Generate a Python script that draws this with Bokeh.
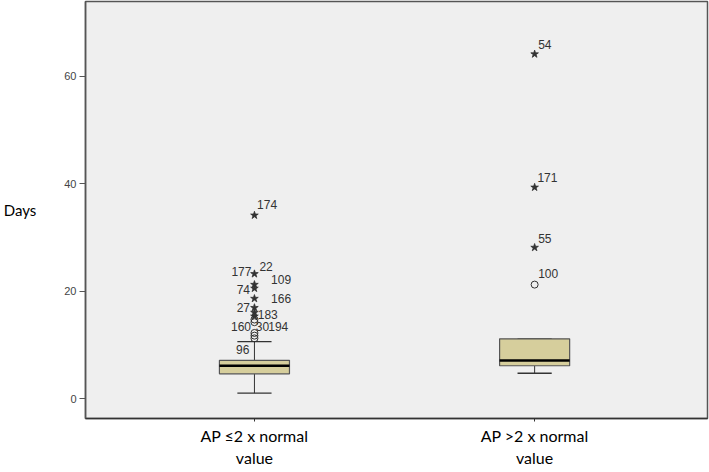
from bokeh.plotting import figure
from bokeh.models import ColumnDataSource, Range1d, FixedTicker
from bokeh.core.properties import value
from bokeh.embed import file_html
from bokeh.resources import INLINE

# ---- data ----
groups = ["AP ≤2 x normal\nvalue", "AP >2 x normal\nvalue"]
q1 = [4.6, 6.1]
median = [6.1, 7.07]
q3 = [7.1, 11.1]
lower = [1.0, 4.7]
upper = [10.6, 11.1]

circle_group = [0, 0, 0, 0, 0, 1]
circle_vals = [14.7, 14.2, 12.2, 11.7, 11.2, 21.2]

star_group = [0, 0, 0, 0, 0, 0, 0, 0, 1, 1, 1]
star_vals = [34.1, 23.2, 21.2, 20.5, 18.6, 16.9, 16.0, 15.3, 64.1, 39.3, 28.1]

label_text = ["174", "22", "177", "109", "74", "166", "27", "183",
              "160", "30", "194", "96", "54", "171", "55", "100"]
label_group = [0, 0, 0, 0, 0, 0, 0, 0, 0, 0, 0, 0, 1, 1, 1, 1]
label_y = [36.2, 24.6, 23.6, 22.1, 20.2, 18.6, 16.9, 15.7,
           13.4, 13.4, 13.4, 9.2, 65.9, 41.1, 29.8, 23.3]

y_ticks = [0, 20, 40, 60]

# ---- label layout (screen px offsets, alignment) ----
label_dx = [2.6, 5, -3, 16.6, -4.4, 16.6, -4.4, 3.3,
            -3.4, 1.3, 13.8, -5, 3.5, 2.8, 3.5, 3.5]
label_align = ["left", "left", "right", "left", "right", "left", "right", "left",
               "right", "left", "left", "right", "left", "left", "left", "left"]

xs = list(range(len(groups)))
box_w = 0.25
cap_w = 0.122

p = figure(width=709, height=472, output_backend="svg", toolbar_location=None,
           x_range=Range1d(-0.603, 1.617), y_range=Range1d(-3.72, 73.89),
           min_border_left=79, min_border_right=2, min_border_top=1,
           min_border_bottom=54)

p.background_fill_color = "#efefef"
p.border_fill_color = "white"
p.outline_line_color = "#555555"
p.outline_line_width = 1.5
p.xgrid.visible = False
p.ygrid.visible = False

# whiskers
p.segment(x0=xs, x1=xs, y0=lower, y1=q1, line_color="#333333", line_width=1)
p.segment(x0=xs, x1=xs, y0=q3, y1=upper, line_color="#333333", line_width=1)
p.segment(x0=[x - cap_w / 2 for x in xs], x1=[x + cap_w / 2 for x in xs],
          y0=lower, y1=lower, line_color="#333333", line_width=1.3)
p.segment(x0=[x - cap_w / 2 for x in xs], x1=[x + cap_w / 2 for x in xs],
          y0=upper, y1=upper, line_color="#333333", line_width=1.3)

# boxes
p.vbar(x=xs, width=box_w, bottom=q1, top=q3, fill_color="#d6ce9c",
       line_color="#555555", line_width=1.2)
p.segment(x0=[x - box_w / 2 for x in xs], x1=[x + box_w / 2 for x in xs],
          y0=median, y1=median, line_color="black", line_width=2.5)

# outliers
p.scatter(x=circle_group, y=circle_vals, marker="circle", size=7,
          fill_color=None, line_color="#333333", line_width=1)
p.scatter(x=star_group, y=star_vals, marker="star", size=8,
          fill_color="#333333", line_color="#333333", line_width=0.8)

src = ColumnDataSource(dict(x=label_group, y=label_y, t=label_text,
                            dx=label_dx, al=label_align))
p.text(x="x", y="y", text="t", x_offset="dx", text_align="al",
       text_baseline="middle", text_font=value("Liberation Sans"),
       text_font_size="12px", text_color="#333333", source=src)

# axes
p.xaxis.ticker = FixedTicker(ticks=xs)
p.xaxis.major_label_overrides = {x: g for x, g in zip(xs, groups)}
p.xaxis.major_label_text_font = "Lato"
p.xaxis.major_label_text_font_size = "16px"
p.xaxis.major_label_text_color = "black"
p.xaxis.major_label_standoff = 4
p.xaxis.major_tick_out = 3
p.xaxis.major_tick_in = 0
p.xaxis.minor_tick_line_color = None
p.xaxis.axis_line_color = "#333333"
p.xaxis.axis_line_width = 1.5
p.xaxis.major_tick_line_color = "#333333"

p.yaxis.ticker = FixedTicker(ticks=y_ticks)
p.yaxis.major_label_text_font = "Liberation Sans"
p.yaxis.major_label_text_font_size = "11px"
p.yaxis.major_label_text_color = "#444444"
p.yaxis.major_label_standoff = 3
p.yaxis.major_tick_out = 6
p.yaxis.major_tick_in = 0
p.yaxis.minor_tick_line_color = None
p.yaxis.axis_line_color = "#555555"
p.yaxis.axis_line_width = 1.5
p.yaxis.major_tick_line_color = "#555555"
p.yaxis.axis_label = "Days"
p.yaxis.axis_label_orientation = "horizontal"
p.yaxis.axis_label_text_font = "Lato"
p.yaxis.axis_label_text_font_size = "15px"
p.yaxis.axis_label_text_font_style = "normal"
p.yaxis.axis_label_text_color = "black"
p.yaxis.axis_label_standoff = 25

open("out.html", "w").write(file_html(p, INLINE))
